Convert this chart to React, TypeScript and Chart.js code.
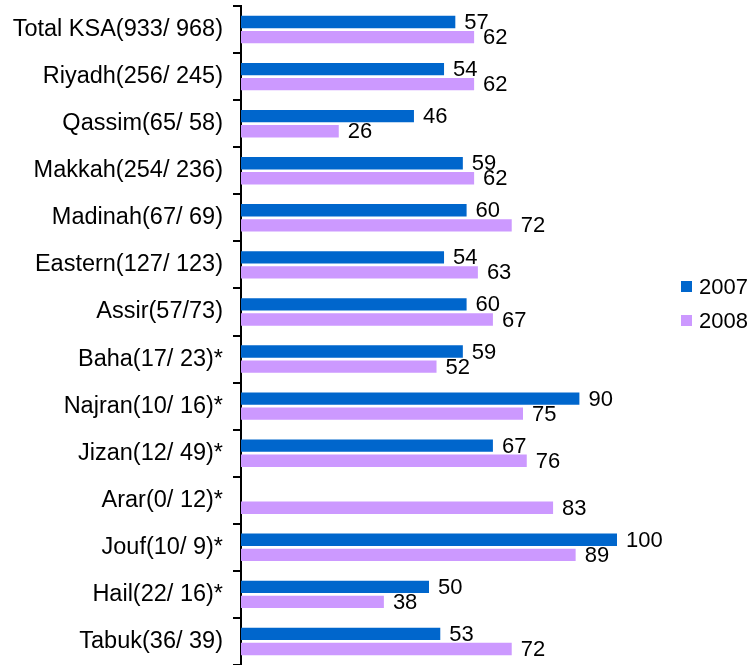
import React, { useEffect, useRef } from "react";
import { Chart, registerables } from "chart.js";

Chart.register(...registerables);

const categories = [
  "Total KSA(933/ 968)",
  "Riyadh(256/ 245)",
  "Qassim(65/ 58)",
  "Makkah(254/ 236)",
  "Madinah(67/ 69)",
  "Eastern(127/ 123)",
  "Assir(57/73)",
  "Baha(17/ 23)*",
  "Najran(10/ 16)*",
  "Jizan(12/ 49)*",
  "Arar(0/ 12)*",
  "Jouf(10/ 9)*",
  "Hail(22/ 16)*",
  "Tabuk(36/ 39)",
];

const series2007: (number | null)[] = [57, 54, 46, 59, 60, 54, 60, 59, 90, 67, null, 100, 50, 53];
const series2008: (number | null)[] = [62, 62, 26, 62, 72, 63, 67, 52, 75, 76, 83, 89, 38, 72];

const seriesNames = ["2007", "2008"];
const seriesColors = ["#0066CC", "#CC99FF"];

const FONT = '"Liberation Sans", Arial, Helvetica, sans-serif';

const dataLabelPlugin = {
  id: "dataLabels",
  afterDatasetsDraw(chart: any) {
    const ctx = chart.ctx;
    ctx.save();
    ctx.font = `22px ${FONT}`;
    ctx.fillStyle = "#000";
    ctx.textAlign = "left";
    ctx.textBaseline = "middle";
    chart.data.datasets.forEach((ds: any, di: number) => {
      const meta = chart.getDatasetMeta(di);
      meta.data.forEach((bar: any, i: number) => {
        const v = ds.data[i];
        if (v === null || v === undefined) return;
        ctx.fillText(String(v), bar.x + 9, bar.y + 1);
      });
    });
    ctx.restore();
  },
};

const legendPlugin = {
  id: "customLegend",
  afterDraw(chart: any) {
    const ctx = chart.ctx;
    ctx.save();
    ctx.font = `22px ${FONT}`;
    ctx.textAlign = "left";
    ctx.textBaseline = "middle";
    seriesNames.forEach((name, i) => {
      const y = 281 + i * 34;
      ctx.fillStyle = seriesColors[i];
      ctx.fillRect(681, y, 11, 11);
      ctx.fillStyle = "#000";
      ctx.fillText(name, 699, y + 6.5);
    });
    ctx.restore();
  },
};

export default function App() {
  const ref = useRef<HTMLCanvasElement | null>(null);

  useEffect(() => {
    if (!ref.current) return;
    const chart = new Chart(ref.current, {
      type: "bar",
      data: {
        labels: categories,
        datasets: [
          {
            label: seriesNames[0],
            data: series2007,
            backgroundColor: seriesColors[0],
            categoryPercentage: 0.64,
            barPercentage: 0.82,
          },
          {
            label: seriesNames[1],
            data: series2008,
            backgroundColor: seriesColors[1],
            categoryPercentage: 0.64,
            barPercentage: 0.82,
          },
        ],
      },
      options: {
        indexAxis: "y",
        animation: false,
        responsive: false,
        layout: { padding: { left: 0, right: 137, top: 6, bottom: 0 } },
        plugins: {
          legend: { display: false },
          tooltip: { enabled: false },
        },
        scales: {
          x: {
            display: false,
            min: 0,
            max: 100,
          },
          y: {
            afterFit: (scale: any) => {
              scale.width = 241;
              scale.paddingTop = 0;
              scale.paddingBottom = 0;
            },
            grid: {
              display: true,
              drawOnChartArea: false,
              drawTicks: true,
              tickLength: 8,
              color: "#000",
              lineWidth: 2,
              offset: true,
            },
            border: { display: true, color: "#000", width: 2 },
            ticks: {
              color: "#000",
              padding: 10,
              font: { family: FONT, size: 23.5 },
              autoSkip: false,
            },
          },
        },
      },
      plugins: [dataLabelPlugin, legendPlugin],
    });
    return () => chart.destroy();
  }, []);

  return (
    <div style={{ position: "fixed", left: 0, top: 0, width: 754, height: 665, background: "#fff" }}>
      <canvas ref={ref} width={754} height={665} style={{ display: "block" }} />
    </div>
  );
}
